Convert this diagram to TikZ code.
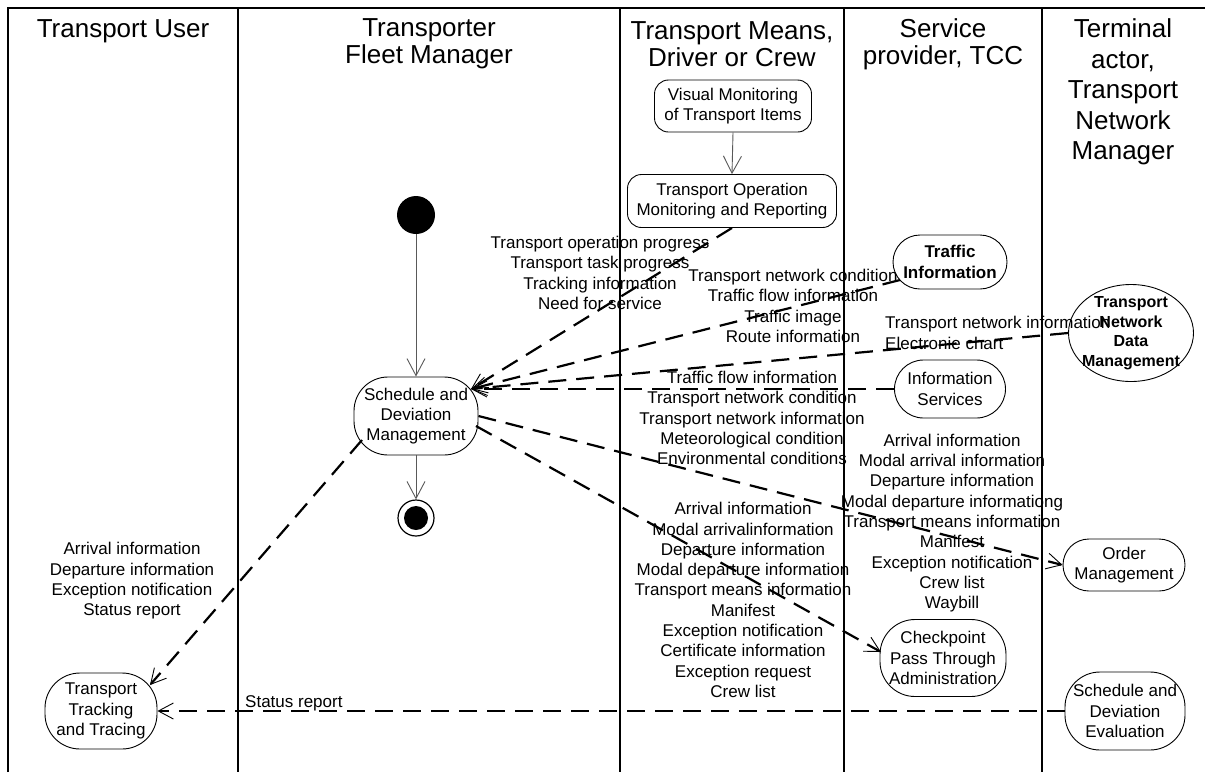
\documentclass[tikz,border=0pt]{standalone}
\usepackage{fontspec}
\setmainfont{Liberation Sans}
\usetikzlibrary{arrows.meta,shapes.geometric}
\begin{document}
\begin{tikzpicture}[x=1pt,y=-1pt,
  every node/.style={font=\fontsize{17}{20.3}\selectfont, inner sep=0pt, align=center},
  lane/.style={line width=2pt},
  title/.style={font=\fontsize{26}{27}\selectfont},
  act/.style={draw, line width=0.9pt, rounded corners=14pt},
  oval/.style={draw, line width=0.9pt},
  boldtxt/.style={font=\fontsize{17}{20.3}\selectfont\bfseries},
  msg/.style={line width=2.2pt, dash pattern=on 18pt off 10pt,
    -{Straight Barb[length=15pt,width=16pt,line width=0.9pt]}},
  ctl/.style={line width=0.9pt, draw=black!65,
    -{Straight Barb[length=17pt,width=18pt,line width=0.9pt]}}
]
\useasboundingbox (0,0) rectangle (1205,772);
% swimlanes
\draw[lane] (8,772) -- (8,8) -- (1205,8);
\draw[lane] (238,8) -- (238,772);
\draw[lane] (620,8) -- (620,772);
\draw[lane] (844,8) -- (844,772);
\draw[lane] (1042,8) -- (1042,772);
% titles
\node[title] (h1) at (123,31) {Transport User};
\node[title] (h2) at (429,44) {Transporter\\Fleet Manager};
\node[title] (h3) at (732,44) {Transport Means,\\Driver or Crew};
\node[title] (h4) at (943,44) {Service\\provider, TCC};
\node[title, font=\fontsize{26}{30.5}\selectfont] (h5) at (1123,92) {Terminal\\actor,\\Transport\\Network\\Manager};
% activities
\node[act, minimum width=157, minimum height=52] (vm) at (733,106) {Visual Monitoring\\of Transport Items};
\node[act, minimum width=209, minimum height=53] (tomr) at (732,201) {Transport Operation\\Monitoring and Reporting};
\node[circle, fill=black, minimum size=38] (init) at (416,215) {};
\node[oval, rounded corners=34pt, minimum width=124, minimum height=78] (sdm) at (416,416) {Schedule and\\Deviation\\Management};
\node[circle, draw, line width=1.2pt, minimum size=36,
  path picture={\fill[black] (path picture bounding box.center) circle (12);}] (final) at (416,518) {};
\node[oval, rounded corners=27pt, minimum width=114, minimum height=54, boldtxt] (ti) at (950,262) {Traffic\\Information};
\node[ellipse, draw, line width=0.9pt, minimum width=125, minimum height=97] (tndm) at (1131,333) {};
\node[font=\fontsize{16}{19.5}\selectfont\bfseries] (tndmtext) at (tndm.center) {Transport\\Network\\Data\\Management};
\node[oval, rounded corners=29pt, minimum width=111, minimum height=58] (is) at (950,389) {Information\\Services};
\node[oval, rounded corners=26pt, minimum width=122, minimum height=52] (om) at (1124,565) {Order\\Management};
\node[oval, rounded corners=35pt, minimum width=126, minimum height=77] (cp) at (943,658) {Checkpoint\\Pass Through\\Administration};
\node[oval, rounded corners=35pt, minimum width=112, minimum height=76] (tt) at (101,711) {Transport\\Tracking\\and Tracing};
\node[oval, rounded corners=35pt, minimum width=120, minimum height=78] (sde) at (1125,711) {Schedule and\\Deviation\\Evaluation};
% attachment points
\coordinate (sdmIn) at ([shift={(55,-27)}]sdm.center);
\coordinate (tiOut) at ([shift={(-50,18)}]ti.center);
\coordinate (sdmCp) at ([shift={(60,10)}]sdm.center);
\coordinate (cpIn) at ([shift={(-62,-6)}]cp.center);
\coordinate (sdmTt) at ([shift={(-54,24)}]sdm.center);
\coordinate (ttIn) at ([shift={(49,-26)}]tt.center);
% control flow
\draw[ctl] (vm.south) -- (tomr.north);
\draw[ctl] (init.south) -- (sdm.north);
\draw[ctl] (sdm.south) -- (final.north);
% object flows
\draw[msg] (tomr.south) -- (sdmIn);
\draw[msg] (tiOut) -- (sdmIn);
\draw[msg] (tndm.west) -- (sdmIn);
\draw[msg] (is.west) -- (sdmIn);
\draw[msg] (sdm.east) -- (om.west);
\draw[msg] (sdmCp) -- (cpIn);
\draw[msg] (sdmTt) -- (ttIn);
\draw[msg] (sde.west) -- (tt.east);
% labels
\node (l1) at (600,273) {Transport operation progress\\Transport task progress\\Tracking information\\Need for service};
\node (l2) at (793,306) {Transport network condition\\Traffic flow information\\Traffic image\\Route information};
\node[align=left, anchor=west] (l3) at (885,333) {Transport network information\\Electronie chart};
\node (l4) at (752,418) {Traffic flow information\\Transport network condition\\Transport network information\\Meteorological condition\\Environmental conditions};
\node (l5) at (952,523) {Arrival information\\Modal arrival information\\Departure information\\Modal departure informationg\\Transport means information\\Manifest\\Exception notification\\Crew list\\Waybill};
\node (l6) at (743,600) {Arrival information\\Modal arrivalinformation\\Departure information\\Modal departure information\\Transport means information\\Manifest\\Exception notification\\Certificate information\\Exception request\\Crew list};
\node (l7) at (132,581) {Arrival information\\Departure information\\Exception notification\\Status report};
\node[anchor=west] (l8) at (245,703) {Status report};
\end{tikzpicture}
\end{document}
